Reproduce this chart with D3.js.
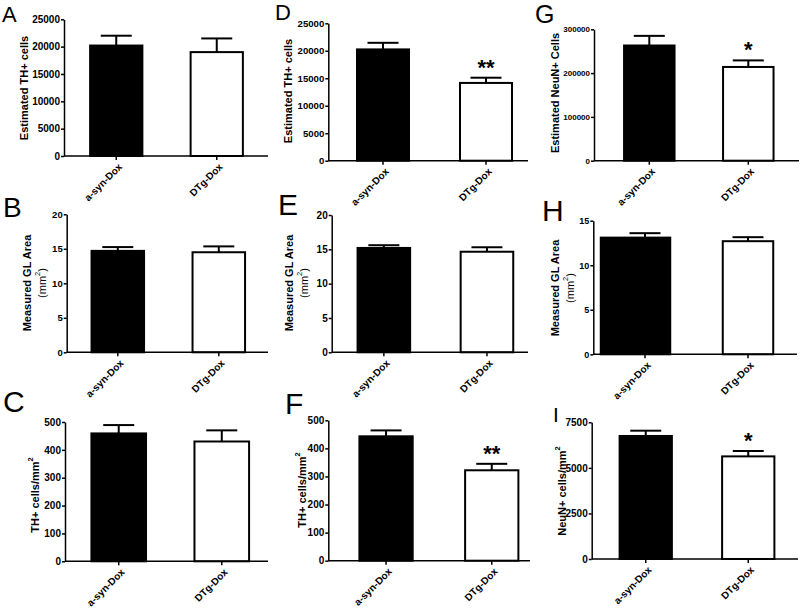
<!DOCTYPE html>
<html>
<head>
<meta charset="utf-8">
<script src="https://cdn.jsdelivr.net/npm/d3@7"></script>
<style>
  html, body { margin: 0; padding: 0; background: #fff; }
  svg { display: block; font-family: "Liberation Sans", Arial, sans-serif; }
</style>
</head>
<body>
<svg id="chart" width="800" height="611"></svg>
<script>
// ---------------- DATA ----------------
const categories = ["a-syn-Dox", "DTg-Dox"];
const panelLetters = ["A", "B", "C", "D", "E", "F", "G", "H", "I"];

// A: Estimated TH+ cells
const meanA = [20200, 19000];
const semA  = [1800, 2500];
const ticksA = [0, 5000, 10000, 15000, 20000, 25000];
// B: Measured GL Area (mm2)
const meanB = [14.7, 14.5];
const semB  = [0.55, 0.85];
const ticksB = [0, 5, 10, 15, 20];
// C: TH+ cells/mm2
const meanC = [459, 430];
const semC  = [30, 40];
const ticksC = [0, 100, 200, 300, 400, 500];
// D: Estimated TH+ cells
const meanD = [20250, 14150];
const semD  = [1200, 950];
const sigD  = ["", "**"];
const ticksD = [0, 5000, 10000, 15000, 20000, 25000];
// E: Measured GL Area (mm2)
const meanE = [15.2, 14.65];
const semE  = [0.4, 0.65];
const ticksE = [0, 5, 10, 15, 20];
// F: TH+ cells/mm2
const meanF = [443, 322];
const semF  = [21, 23];
const sigF  = ["", "**"];
const ticksF = [0, 100, 200, 300, 400, 500];
// G: Estimated NeuN+ Cells
const meanG = [263000, 214000];
const semG  = [22000, 15000];
const sigG  = ["", "*"];
const ticksG = [0, 100000, 200000, 300000];
// H: Measured GL Area (mm2)
const meanH = [13.1, 12.7];
const semH  = [0.5, 0.45];
const ticksH = [0, 5, 10, 15];
// I: NeuN+ cells/mm2
const meanI = [6750, 5630];
const semI  = [290, 295];
const sigI  = ["", "*"];
const ticksI = [0, 2500, 5000, 7500];

const titleA = ["Estimated TH+ cells"];
const titleB = ["Measured GL Area", "(mm|2|)"];
const titleC = ["TH+ cells/mm|2|"];
const titleG = ["Estimated NeuN+ Cells"];
const titleI = ["NeuN+ cells/mm|2|"];

const barFills = ["#000000", "#ffffff"];

// ---------------- LAYOUT ----------------
const panels = [
  {letter: panelLetters[0], mean: meanA, sem: semA, sig: null, ticks: ticksA, title: titleA,
   lx: 2, ly: 22, ls: 22, ax0: 64, ax1: 268, y0: 156, y1: 19.3, band: [66, 267], pad: 0.48,
   tfs: 10, tx: 24, ty: 88},
  {letter: panelLetters[1], mean: meanB, sem: semB, sig: null, ticks: ticksB, title: titleB,
   lx: 3, ly: 217, ls: 28, ax0: 66.7, ax1: 268, y0: 352.3, y1: 214.3, band: [67.3, 269.3], pad: 0.48,
   tfs: 9.5, tx: 34, ty: 283},
  {letter: panelLetters[2], mean: meanC, sem: semC, sig: null, ticks: ticksC, title: titleC,
   lx: 3, ly: 412, ls: 30, ax0: 65, ax1: 268, y0: 561.3, y1: 422, band: [67.2, 273.3], pad: 0.47,
   tfs: 10, tx: 35, ty: 495},
  {letter: panelLetters[3], mean: meanD, sem: semD, sig: sigD, ticks: ticksD, title: titleA,
   lx: 275, ly: 20, ls: 22, ax0: 328.3, ax1: 528, y0: 160.7, y1: 23.3, band: [331.5, 537.5], pad: 0.495,
   tfs: 9.6, tx: 288, ty: 91},
  {letter: panelLetters[4], mean: meanE, sem: semE, sig: null, ticks: ticksE, title: titleB,
   lx: 278, ly: 215, ls: 30, ax0: 331.7, ax1: 528, y0: 352.3, y1: 215, band: [332.3, 538.5], pad: 0.49,
   tfs: 10, tx: 296.5, ty: 283},
  {letter: panelLetters[5], mean: meanF, sem: semF, sig: sigF, ticks: ticksF, title: titleC,
   lx: 285, ly: 414, ls: 30, ax0: 328.3, ax1: 530, y0: 560.7, y1: 420.3, band: [333.2, 544.6], pad: 0.496,
   tfs: 10, tx: 302, ty: 490},
  {letter: panelLetters[6], mean: meanG, sem: semG, sig: sigG, ticks: ticksG, title: titleG,
   lx: 535, ly: 23, ls: 25, ax0: 594, ax1: 799, y0: 160.7, y1: 29.3, band: [599.8, 797.8], pad: 0.49,
   tfs: 8, tx: 555, ty: 93},
  {letter: panelLetters[7], mean: meanH, sem: semH, sig: null, ticks: ticksH, title: titleB,
   lx: 542, ly: 221, ls: 30, ax0: 593.3, ax1: 797, y0: 354.3, y1: 220.7, band: [593.5, 799.5], pad: 0.51,
   tfs: 9, tx: 562, ty: 288, firstExtraLeft: 19},
  {letter: panelLetters[8], mean: meanI, sem: semI, sig: sigI, ticks: ticksI, title: titleI,
   lx: 553, ly: 422, ls: 21, ax0: 591.7, ax1: 798, y0: 559, y1: 422.3, band: [594.5, 799.5], pad: 0.49,
   tfs: 10, tx: 562, ty: 491}
];

const svg = d3.select("#chart");
svg.append("rect").attr("width", 800).attr("height", 611).attr("fill", "#fff");

function addRich(textSel, str, supSize) {
  const parts = str.split("|");
  parts.forEach((p, i) => {
    if (!p) return;
    const t = textSel.append("tspan").text(p);
    if (i % 2 === 1) {
      t.attr("font-size", supSize).attr("baseline-shift", "super");
    }
  });
}

panels.forEach(p => {
  const g = svg.append("g");
  const x = d3.scaleBand().domain(categories).range(p.band)
    .paddingInner(p.pad).paddingOuter(p.pad / 2);
  const ymax = p.ticks[p.ticks.length - 1];
  const y = d3.scaleLinear().domain([0, ymax]).range([p.y0, p.y1]);

  // panel letter
  g.append("text").attr("x", p.lx).attr("y", p.ly)
    .attr("font-size", p.ls).attr("font-weight", "normal").text(p.letter);

  // bars
  categories.forEach((c, i) => {
    const extra = (i === 0 && p.firstExtraLeft) ? p.firstExtraLeft : 0;
    const bx = x(c) - extra, bw = x.bandwidth() + extra;
    const cx = x(c) + x.bandwidth() / 2;
    const top = y(p.mean[i]);
    const errTop = y(p.mean[i] + p.sem[i]);
    const capHalf = 15.5;
    // error bar
    g.append("line").attr("x1", cx).attr("x2", cx).attr("y1", top).attr("y2", errTop)
      .attr("stroke", "#000").attr("stroke-width", 2);
    g.append("line").attr("x1", cx - capHalf).attr("x2", cx + capHalf).attr("y1", errTop).attr("y2", errTop)
      .attr("stroke", "#000").attr("stroke-width", 2);
    g.append("rect").attr("x", bx).attr("y", top).attr("width", bw).attr("height", p.y0 - top)
      .attr("fill", barFills[i]).attr("stroke", "#000").attr("stroke-width", 2);
    if (p.sig && p.sig[i]) {
      g.append("text").attr("x", cx).attr("y", errTop - 3)
        .attr("text-anchor", "middle").attr("font-size", 22).attr("font-weight", "bold")
        .text(p.sig[i]);
    }
  });

  // y axis
  const yAxis = d3.axisLeft(y).tickValues(p.ticks).tickSize(3).tickPadding(1).tickSizeOuter(0)
    .tickFormat(d3.format("d"));
  const ya = g.append("g").attr("transform", `translate(${p.ax0},0)`).call(yAxis);
  ya.select(".domain").attr("stroke-width", 1.5);
  ya.selectAll(".tick line").attr("stroke-width", 1.5);
  ya.selectAll(".tick text").attr("font-size", p.tfs).attr("font-weight", "bold")
    .attr("font-family", "Liberation Sans, Arial, sans-serif").attr("fill", "#000");

  // x axis
  const xAxis = d3.axisBottom(x).tickSize(4).tickSizeOuter(0);
  const xa = g.append("g").attr("transform", `translate(0,${p.y0})`).call(xAxis);
  xa.select(".domain").remove();
  xa.selectAll(".tick line").attr("stroke-width", 1.5);
  xa.selectAll(".tick text")
    .attr("font-size", 10).attr("font-weight", "bold")
    .attr("font-family", "Liberation Sans, Arial, sans-serif").attr("fill", "#000")
    .attr("text-anchor", "end")
    .attr("transform", "translate(4,9) rotate(-45)")
    .attr("dy", "0.35em").attr("y", 0);
  g.append("line").attr("x1", p.ax0).attr("x2", p.ax1).attr("y1", p.y0).attr("y2", p.y0)
    .attr("stroke", "#000").attr("stroke-width", 1.5);

  // y title
  const lines = p.title;
  const lh = 15;
  lines.forEach((ln, k) => {
    const off = (k - (lines.length - 1) / 2) * lh;
    const t = g.append("text")
      .attr("transform", `translate(${p.tx + off},${p.ty}) rotate(-90)`)
      .attr("text-anchor", "middle").attr("dominant-baseline", "central")
      .attr("font-size", 11).attr("font-weight", k === 0 ? "bold" : "normal");
    addRich(t, ln, 7.5);
  });
});
</script>
</body>
</html>
